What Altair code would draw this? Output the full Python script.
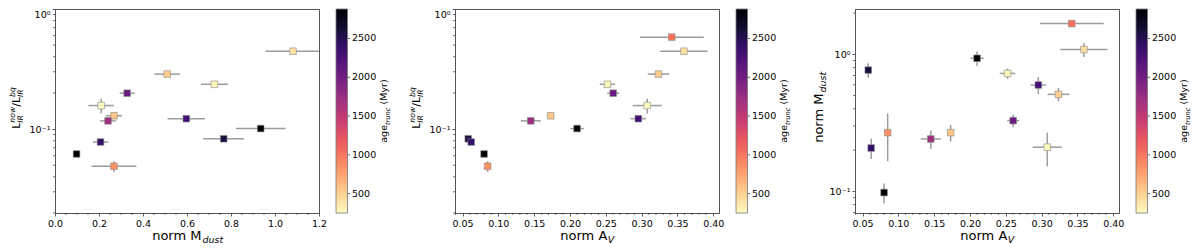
import altair as alt
import pandas as pd

# ---------------- data (14 galaxies) ----------------
mdust     = [1.082, 0.510, 0.725, 0.328, 0.210, 0.268, 0.241, 0.597, 0.935, 0.767, 0.207, 0.098, 0.268, 1.675]
mdust_err = [0.125, 0.058, 0.062, 0.034, 0.058, 0.037, 0.037, 0.085, 0.113, 0.093, 0.035, 0.016, 0.102, 0.047]
lir_ratio = [0.445, 0.287, 0.236, 0.199, 0.157, 0.129, 0.117, 0.122, 0.101, 0.083, 0.078, 0.062, 0.049, 0.583]
lir_err   = [0.004, 0.004, 0.004, 0.004, 0.022, 0.003, 0.005, 0.005, 0.002, 0.002, 0.002, 0.001, 0.005, 0.006]
av        = [0.359, 0.3235, 0.2524, 0.2603, 0.3079, 0.173, 0.1453, 0.2954, 0.2099, 0.058, 0.0621, 0.0801, 0.0851, 0.3421]
av_err    = [0.033, 0.015, 0.0108, 0.0083, 0.0203, 0.0, 0.0139, 0.0108, 0.0093, 0.0, 0.0, 0.0, 0.0, 0.0446]
age_trunc = [420, 520, 290, 2050, 260, 560, 1720, 2300, 2880, 2580, 2400, 2880, 850, 1030]

# axis ticks / colorbar ticks
age_domain   = [250, 2880]
cbar_ticks   = [500, 1000, 1500, 2000, 2500]
mdust_ticks  = [0.0, 0.2, 0.4, 0.6, 0.8, 1.0, 1.2]
mdust_minor  = [0.05, 0.1, 0.15, 0.25, 0.3, 0.35, 0.45, 0.5, 0.55, 0.65, 0.7, 0.75,
                0.85, 0.9, 0.95, 1.05, 1.1, 1.15]
av_ticks     = [0.05, 0.10, 0.15, 0.20, 0.25, 0.30, 0.35, 0.40]
av_minor     = [round(0.04 + 0.01 * i, 2) for i in range(37) if (4 + i) % 5 != 0]
log_ticks    = [0.1, 1.0]
lir_minor    = [0.02, 0.03, 0.04, 0.05, 0.06, 0.07, 0.08, 0.09,
                0.2, 0.3, 0.4, 0.5, 0.6, 0.7, 0.8, 0.9]
md_minor     = [0.07, 0.08, 0.09, 0.2, 0.3, 0.4, 0.5, 0.6, 0.7, 0.8, 0.9, 2.0]

df = pd.DataFrame({
    "mdust": mdust, "mdust_err": mdust_err,
    "lir": lir_ratio, "lir_err": lir_err,
    "av": av, "av_err": av_err, "age": age_trunc,
})

W, H = 264, 204
FONT = "DejaVu Sans"
ERR = "#9c9c9c"
FRAME = "#555555"
CB_X, CB_W = W + 17, 11.5

cscale = alt.Scale(scheme="magma", reverse=True, domain=age_domain)


def text_layers(pieces, x, y, angle=0):
    out = []
    for txt, dx, dy, size, italic, align in pieces:
        out.append(
            alt.Chart(alt.Data(values=[{"t": txt}]))
            .mark_text(font=FONT, fontSize=size, fontStyle="italic" if italic else "normal",
                       align=align, baseline="alphabetic", angle=angle, dx=dx, dy=dy,
                       color="black")
            .encode(x=alt.value(x), y=alt.value(y), text="t:N")
        )
    return out


T_MDUST = [("norm M", 14.5, 0, 13, False, "right"), ("dust", 15.5, 3, 9.5, True, "left")]
T_AV = [("norm A", 20.3, 0, 13, False, "right"), ("V", 20.8, 3, 9.5, True, "left")]
T_LIR = [("L", -20.8, 0, 11, False, "left"),
         ("IR", -14.7, 2.5, 7.7, True, "left"), ("now", -14.7, -4.8, 7.7, True, "left"),
         ("/L", 1.2, 0, 11, False, "left"),
         ("IR", 11.0, 2.5, 7.7, True, "left"), ("bq", 11.0, -4.8, 7.7, True, "left")]
T_AGE = [("age", -31.7, 0, 9.5, False, "left"), ("trunc", -14.0, 2.5, 6.7, True, "left"),
         ("(Myr)", 6.5, 0, 9.5, False, "left")]


def panel(xc, xe, yc, ye, xdom, ydom, xticks, xfmt, xminor, yminor, xtitle, ytitle, ytitle_x):
    xs = alt.Scale(domain=xdom, nice=False, zero=False)
    ys = alt.Scale(type="log", domain=ydom, nice=False)
    xaxis = alt.Axis(values=xticks, format=xfmt, title=None, grid=False, tickSize=3,
                     labelPadding=2, labelFlush=False)
    yaxis = alt.Axis(values=log_ticks, labelExpr="datum.value >= 1 ? '10⁰' : '10⁻¹'",
                     title=None, grid=False, tickSize=3, labelPadding=2, labelFlush=True)
    base = alt.Chart(df)
    xbar = (base.transform_filter(f"datum.{xe} > 0")
            .transform_calculate(lo=f"datum.{xc} - datum.{xe}", hi=f"datum.{xc} + datum.{xe}")
            .mark_rule(color=ERR, strokeWidth=1.5, clip=True)
            .encode(x=alt.X("lo:Q", scale=xs, axis=xaxis), x2="hi:Q",
                    y=alt.Y(f"{yc}:Q", scale=ys, axis=yaxis)))
    ybar = (base.transform_filter(f"datum.{ye} > 0")
            .transform_calculate(lo=f"datum.{yc} - datum.{ye}", hi=f"datum.{yc} + datum.{ye}")
            .mark_rule(color=ERR, strokeWidth=1.5, clip=True)
            .encode(x=alt.X(f"{xc}:Q", scale=xs, axis=xaxis),
                    y=alt.Y("lo:Q", scale=ys, axis=yaxis), y2="hi:Q"))
    pts = (base.mark_square(size=44, stroke="#8c8c8c", strokeWidth=0.6, opacity=1, clip=True)
           .encode(x=alt.X(f"{xc}:Q", scale=xs, axis=xaxis),
                   y=alt.Y(f"{yc}:Q", scale=ys, axis=yaxis),
                   color=alt.Color("age:Q", scale=cscale,
                                   legend=alt.Legend(title=None, orient="none", legendX=CB_X,
                                                     legendY=0, direction="vertical",
                                                     gradientLength=H, gradientThickness=CB_W,
                                                     values=cbar_ticks, format="d", labelOffset=4.5,
                                                     gradientStrokeColor="#777777",
                                                     gradientStrokeWidth=0.8))))
    xmin_l = (alt.Chart(pd.DataFrame({"v": xminor})).mark_rule(color="#333333", strokeWidth=0.8)
              .encode(x=alt.X("v:Q", scale=xs, axis=xaxis), y=alt.value(H), y2=alt.value(H + 1.8)))
    ymin_l = (alt.Chart(pd.DataFrame({"v": yminor})).mark_rule(color="#333333", strokeWidth=0.8)
              .encode(y=alt.Y("v:Q", scale=ys, axis=yaxis), x=alt.value(0), x2=alt.value(-1.8)))
    texts = (text_layers(xtitle, W / 2, H + 27)
             + text_layers(ytitle, ytitle_x, H / 2 - 3, angle=270)
             + text_layers(T_AGE, W + 68, H / 2, angle=270))
    main = alt.layer(xbar, ybar, pts, xmin_l, ymin_l, *texts)
    # small tick marks on the right edge of the colour bar
    cb_ticks = (alt.Chart(pd.DataFrame({"a": cbar_ticks})).mark_rule(color="#333333", strokeWidth=0.8)
                .encode(y=alt.Y("a:Q", scale=alt.Scale(domain=age_domain, nice=False, zero=False),
                                axis=None),
                        x=alt.value(CB_X + CB_W), x2=alt.value(CB_X + CB_W + 2.5)))
    return (alt.layer(main, cb_ticks).resolve_scale(y="independent")
            .properties(width=W, height=H))


p1 = panel("mdust", "mdust_err", "lir", "lir_err", [0, 1.2], [0.02, 1.0], mdust_ticks, ".1f",
           mdust_minor, lir_minor, T_MDUST, T_LIR, -35)
p2 = panel("av", "av_err", "lir", "lir_err", [0.0395, 0.408], [0.02, 1.0], av_ticks, ".2f",
           av_minor, lir_minor, T_AV, T_LIR, -35)
p3 = panel("av", "av_err", "mdust", "mdust_err", [0.0395, 0.408], [0.0695, 2.14], av_ticks, ".2f",
           av_minor, md_minor, T_AV, T_MDUST, -32)

chart = (
    alt.hconcat(p1, p2, p3, spacing=136, bounds="flush")
    .resolve_scale(x="independent", y="independent", color="independent")
    .resolve_legend(color="independent")
    .properties(padding={"left": 0, "right": 0, "top": 0, "bottom": 0})
    .configure(font=FONT)
    .configure_view(stroke=FRAME, strokeWidth=1)
    .configure_axis(labelFont=FONT, labelFontSize=9.5, labelColor="black", tickColor="#333333",
                    tickWidth=0.8, domainColor=FRAME, domainWidth=1)
    .configure_legend(labelFont=FONT, labelFontSize=9.5, labelColor="black")
)

chart.save("out.html", embed_options={"renderer": "svg", "actions": False})
